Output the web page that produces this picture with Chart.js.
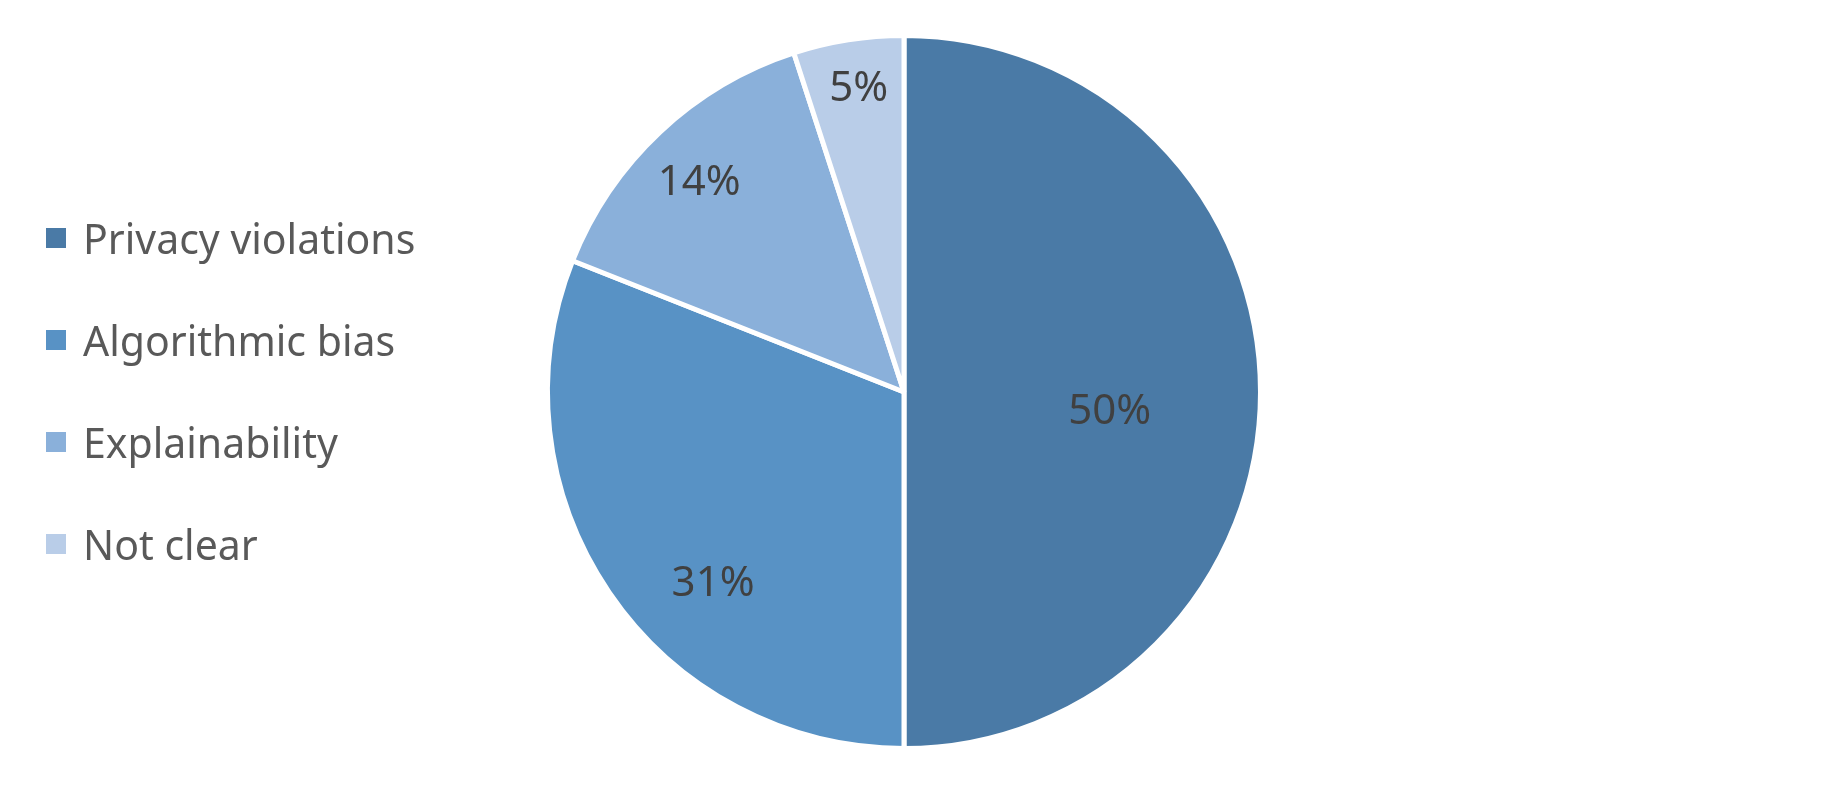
<!DOCTYPE html>
<html>
<head>
<meta charset="utf-8">
<script src="https://cdn.jsdelivr.net/npm/chart.js@4.4.0/dist/chart.umd.min.js"></script>
<style>
  html, body { margin: 0; padding: 0; background: #fff; }
  #wrap { position: relative; width: 1836px; height: 786px; }
  #legend { position: absolute; left: 46px; top: 0; font-family: "Noto Sans", sans-serif; font-size: 41px; color: #595959; }
  #legend div { position: absolute; white-space: nowrap; display: flex; align-items: center; height: 50px; }
  #legend span.box { display: inline-block; width: 20px; height: 20px; margin-right: 17px; }
</style>
</head>
<body>
<div id="wrap">
  <canvas id="pieChart" width="1836" height="786"></canvas>
  <div id="legend"></div>
</div>
<script>
/* ---------- data ---------- */
const categories = ['Privacy violations', 'Algorithmic bias', 'Explainability', 'Not clear'];
const shares = [50, 31, 14, 5];
const sliceColors = ['#4a7aa6', '#5892c5', '#8ab0da', '#b9cde8'];

/* label placement tweaks (fraction of radius, angle shift in deg) */
const labelRadius = [0.58, 0.76, 0.82, 0.86];
const labelShift = [5.6, -11, -1.3, 0.5];

/* ---------- legend (html) ---------- */
const legendEl = document.getElementById('legend');
categories.forEach((name, i) => {
    const row = document.createElement('div');
    row.style.top = (213 + i * 102) + 'px';
    row.innerHTML = '<span class="box" style="background:' + sliceColors[i] + '"></span>' + name;
    legendEl.appendChild(row);
});

/* ---------- data labels ---------- */
const pctLabels = {
    id: 'pctLabels',
    afterDatasetsDraw(chart) {
        const ctx = chart.ctx;
        const arcs = chart.getDatasetMeta(0).data;
        ctx.save();
        ctx.font = '42px "Noto Sans", sans-serif';
        ctx.fillStyle = '#404040';
        ctx.textAlign = 'center';
        ctx.textBaseline = 'middle';
        arcs.forEach((arc, i) => {
            const p = arc.getProps(['x', 'y', 'startAngle', 'endAngle', 'outerRadius'], true);
            const mid = (p.startAngle + p.endAngle) / 2 + labelShift[i] * Math.PI / 180;
            const r = p.outerRadius * labelRadius[i];
            ctx.fillText(shares[i] + '%', p.x + Math.cos(mid) * r, p.y + Math.sin(mid) * r);
        });
        ctx.restore();
    }
};

new Chart(document.getElementById('pieChart'), {
    type: 'pie',
    data: {
        labels: categories,
        datasets: [{
            data: shares,
            backgroundColor: sliceColors,
            borderColor: '#ffffff',
            borderWidth: 5
        }]
    },
    options: {
        responsive: false,
        animation: false,
        layout: { padding: { top: 33, bottom: 35, left: 0, right: 28 } },
        plugins: {
            legend: { display: false },
            tooltip: { enabled: false }
        }
    },
    plugins: [pctLabels]
});
</script>
</body>
</html>
